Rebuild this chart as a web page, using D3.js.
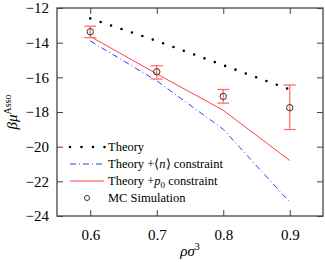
<!DOCTYPE html>
<html>
<head>
<meta charset="utf-8">
<script src="https://cdn.jsdelivr.net/npm/d3@7"></script>
<style>
body { margin: 0; background: #fff; }
svg text { font-family: "Liberation Serif", serif; fill: #000; }
</style>
</head>
<body>
<svg width="325" height="262"></svg>
<script>
var densities = [0.6, 0.7, 0.8, 0.9];
var theory = [-12.6, -13.9, -15.3, -16.7];
var theoryN = [-13.9, -16.2, -19.0, -23.2];
var theoryP0 = [-13.64, -15.8, -17.9, -20.8];
var mcValue = [-13.37, -15.68, -17.1, -17.75];
var mcLow = [-13.71, -16.1, -17.49, -19.01];
var mcHigh = [-13.05, -15.33, -16.7, -16.44];
var xTicks = [0.6, 0.7, 0.8, 0.9];
var yTicks = [-12, -14, -16, -18, -20, -22, -24];

var svg = d3.select("svg");
var pl = 57, pr = 323, pt = 8, pb = 216;
var serif = "Liberation Serif";

var x = d3.scaleLinear().domain([0.55, 0.95]).range([pl, pr]);
var y = d3.scaleLinear().domain([-24, -12]).range([pb, pt]);

var axisColor = "#444";
var frame = svg.append("g");

// ticks inside the frame, on all four sides
frame.append("g").attr("transform", "translate(0," + pb + ")")
  .call(d3.axisBottom(x).tickValues(xTicks).tickSizeInner(-6).tickSizeOuter(0).tickPadding(13).tickFormat(d3.format(".1f")));
frame.append("g").attr("transform", "translate(0," + pt + ")")
  .call(d3.axisTop(x).tickValues(xTicks).tickSizeInner(-6).tickSizeOuter(0).tickFormat(""));
frame.append("g").attr("transform", "translate(" + pl + ",0)")
  .call(d3.axisLeft(y).tickValues(yTicks).tickSizeInner(-6).tickSizeOuter(0).tickPadding(8).tickFormat(d3.format("d")));
frame.append("g").attr("transform", "translate(" + pr + ",0)")
  .call(d3.axisRight(y).tickValues(yTicks).tickSizeInner(-6).tickSizeOuter(0).tickFormat(""));

frame.selectAll(".domain").remove();
frame.selectAll(".tick line").attr("stroke", axisColor);
frame.selectAll("g").attr("font-family", serif).attr("font-size", 15);
frame.selectAll(".tick text").attr("fill", "#000");
frame.append("rect")
  .attr("x", pl).attr("y", pt)
  .attr("width", pr - pl).attr("height", pb - pt)
  .attr("fill", "none").attr("stroke", axisColor).attr("stroke-width", 1.3);

var pts = function(vals) { return densities.map(function(d, i) { return [d, vals[i]]; }); };
var line = d3.line().x(function(d) { return x(d[0]); }).y(function(d) { return y(d[1]); });

var plot = svg.append("g");

plot.append("path").attr("d", line(pts(theoryN)))
  .attr("fill", "none").attr("stroke", "#3b3bff").attr("stroke-width", 1)
  .attr("stroke-dasharray", "6,3,1,3");

plot.append("path").attr("d", line(pts(theoryP0)))
  .attr("fill", "none").attr("stroke", "#ff4040").attr("stroke-width", 1);

plot.append("path").attr("d", line(pts(theory)))
  .attr("fill", "none").attr("stroke", "#000").attr("stroke-width", 2.6)
  .attr("stroke-linecap", "round").attr("stroke-dasharray", "0,11");

// MC simulation with error bars
var mc = plot.selectAll(".mc").data(densities).enter().append("g");
mc.append("line")
  .attr("x1", function(d) { return x(d); }).attr("x2", function(d) { return x(d); })
  .attr("y1", function(d, i) { return y(mcLow[i]); }).attr("y2", function(d, i) { return y(mcHigh[i]); })
  .attr("stroke", "#ff7070").attr("stroke-width", 1.3);
[mcLow, mcHigh].forEach(function(arr) {
  mc.append("line")
    .attr("x1", function(d) { return x(d) - 6; }).attr("x2", function(d) { return x(d) + 6; })
    .attr("y1", function(d, i) { return y(arr[i]); }).attr("y2", function(d, i) { return y(arr[i]); })
    .attr("stroke", "#ff7070").attr("stroke-width", 1.3);
});
mc.append("circle")
  .attr("cx", function(d) { return x(d); }).attr("cy", function(d, i) { return y(mcValue[i]); })
  .attr("r", 3.2).attr("fill", "none").attr("stroke", "#333").attr("stroke-width", 1);

// legend
var lg = svg.append("g").attr("font-family", serif);
var lx0 = 70, lx1 = 104, tx = 108;
lg.append("line").attr("x1", lx0).attr("x2", lx1 + 1).attr("y1", 147).attr("y2", 147)
  .attr("stroke", "#000").attr("stroke-width", 2.6).attr("stroke-linecap", "round").attr("stroke-dasharray", "0,11.5");
lg.append("line").attr("x1", lx0).attr("x2", lx1).attr("y1", 164).attr("y2", 164)
  .attr("stroke", "#3b3bff").attr("stroke-width", 1).attr("stroke-dasharray", "6,3,1,3");
lg.append("line").attr("x1", lx0).attr("x2", lx1).attr("y1", 181).attr("y2", 181)
  .attr("stroke", "#ff4040").attr("stroke-width", 1);
lg.append("circle").attr("cx", 87).attr("cy", 198).attr("r", 2.5)
  .attr("fill", "none").attr("stroke", "#333").attr("stroke-width", 1);

var lt = function(yy) {
  return lg.append("text").attr("x", tx).attr("y", yy + 4).attr("font-size", 12.5);
};
lt(147).text("Theory");
var t2 = lt(164);
t2.append("tspan").text("Theory +⟨");
t2.append("tspan").attr("font-style", "italic").text("n");
t2.append("tspan").text("⟩ constraint");
var t3 = lt(181);
t3.append("tspan").text("Theory +");
t3.append("tspan").attr("font-style", "italic").text("p");
t3.append("tspan").attr("font-size", 9).attr("dy", 3).text("0");
t3.append("tspan").attr("dy", -3).text(" constraint");
lt(198).text("MC Simulation");

// axis titles
var xt = svg.append("text").attr("x", 190).attr("y", 256).attr("text-anchor", "middle")
  .attr("font-family", serif).attr("font-size", 15);
xt.append("tspan").attr("font-style", "italic").text("ρσ");
xt.append("tspan").attr("font-size", 10).attr("dy", -6).text("3");

var yt = svg.append("text").attr("transform", "translate(17,112) rotate(-90)")
  .attr("text-anchor", "middle").attr("font-family", serif).attr("font-size", 15);
yt.append("tspan").attr("font-style", "italic").text("βμ");
yt.append("tspan").attr("font-size", 10).attr("dy", -6).text("Asso");
</script>
</body>
</html>
